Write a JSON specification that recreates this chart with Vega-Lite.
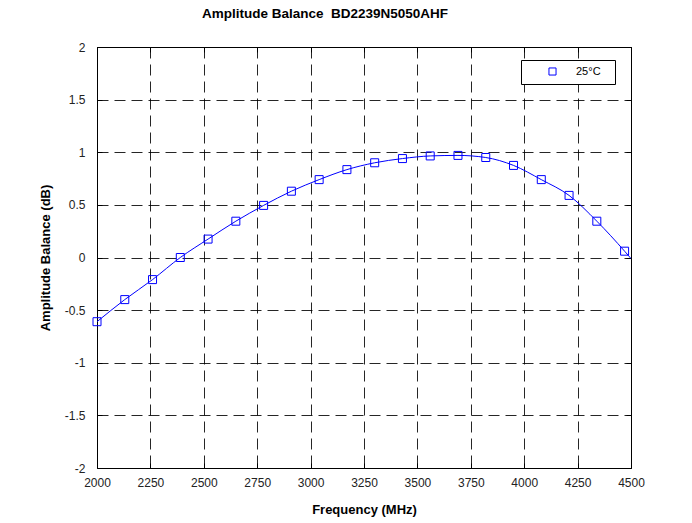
{
  "$schema": "https://vega.github.io/schema/vega-lite/v6.json",
  "width": 534,
  "height": 421,
  "autosize": {"type": "none"},
  "padding": {"left": 97, "top": 47, "right": 61, "bottom": 55},
  "background": "white",
  "title": {
    "text": "Amplitude Balance\u00a0 BD2239N5050AHF",
    "fontSize": 13.5,
    "fontWeight": "bold",
    "font": "Liberation Sans",
    "color": "black",
    "anchor": "middle",
    "dx": -39,
    "baseline": "alphabetic",
    "offset": 10
  },
  "config": {
    "view": {"stroke": "black", "strokeWidth": 1},
    "font": "Liberation Sans",
    "axis": {
      "labelFont": "Liberation Sans",
      "labelFontSize": 12,
      "labelColor": "#222",
      "titleFont": "Liberation Sans",
      "titleFontSize": 13,
      "titleFontWeight": "bold",
      "titleColor": "black",
      "domain": false,
      "tickColor": "black",
      "gridColor": "black",
      "gridDash": [11, 6],
      "gridWidth": 1,
      "gridOpacity": 0.85
    }
  },
  "datasets": {
    "markers": [
      {"freq": 2000, "bal": -0.61, "series": "25°C"},
      {"freq": 2130, "bal": -0.4, "series": "25°C"},
      {"freq": 2260, "bal": -0.21, "series": "25°C"},
      {"freq": 2390, "bal": 0.0, "series": "25°C"},
      {"freq": 2520, "bal": 0.175, "series": "25°C"},
      {"freq": 2650, "bal": 0.345, "series": "25°C"},
      {"freq": 2780, "bal": 0.495, "series": "25°C"},
      {"freq": 2910, "bal": 0.63, "series": "25°C"},
      {"freq": 3040, "bal": 0.74, "series": "25°C"},
      {"freq": 3170, "bal": 0.835, "series": "25°C"},
      {"freq": 3300, "bal": 0.9, "series": "25°C"},
      {"freq": 3430, "bal": 0.94, "series": "25°C"},
      {"freq": 3560, "bal": 0.965, "series": "25°C"},
      {"freq": 3690, "bal": 0.97, "series": "25°C"},
      {"freq": 3820, "bal": 0.95, "series": "25°C"},
      {"freq": 3950, "bal": 0.875, "series": "25°C"},
      {"freq": 4080, "bal": 0.74, "series": "25°C"},
      {"freq": 4210, "bal": 0.59, "series": "25°C"},
      {"freq": 4340, "bal": 0.345, "series": "25°C"},
      {"freq": 4470, "bal": 0.06, "series": "25°C"}
    ],
    "curve": [
      {"freq": 2000, "bal": -0.61},
      {"freq": 2130, "bal": -0.4},
      {"freq": 2260, "bal": -0.21},
      {"freq": 2390, "bal": 0.0},
      {"freq": 2520, "bal": 0.175},
      {"freq": 2650, "bal": 0.345},
      {"freq": 2780, "bal": 0.495},
      {"freq": 2910, "bal": 0.63},
      {"freq": 3040, "bal": 0.74},
      {"freq": 3170, "bal": 0.835},
      {"freq": 3300, "bal": 0.9},
      {"freq": 3430, "bal": 0.94},
      {"freq": 3560, "bal": 0.965},
      {"freq": 3690, "bal": 0.97},
      {"freq": 3820, "bal": 0.95},
      {"freq": 3950, "bal": 0.875},
      {"freq": 4080, "bal": 0.74},
      {"freq": 4210, "bal": 0.59},
      {"freq": 4340, "bal": 0.345},
      {"freq": 4470, "bal": 0.06},
      {"freq": 4500, "bal": -0.01}
    ]
  },
  "layer": [
    {
      "data": {"name": "curve"},
      "mark": {"type": "line", "color": "#0000ff", "strokeWidth": 1, "interpolate": "monotone", "clip": true},
      "encoding": {
        "x": {
          "field": "freq", "type": "quantitative",
          "scale": {"domain": [2000, 4500], "nice": false, "zero": false},
          "axis": {
            "orient": "bottom",
            "values": [2000, 2250, 2500, 2750, 3000, 3250, 3500, 3750, 4000, 4250, 4500],
            "labelExpr": "datum.value + ''",
            "title": "Frequency (MHz)",
            "titlePadding": 15,
            "grid": true,
            "tickSize": -5,
            "labelPadding": 14,
            "labelFlush": false
          }
        },
        "y": {
          "field": "bal", "type": "quantitative",
          "scale": {"domain": [-2, 2], "nice": false, "zero": false},
          "axis": {
            "orient": "left",
            "values": [-2, -1.5, -1, -0.5, 0, 0.5, 1, 1.5, 2],
            "labelExpr": "datum.value + ''",
            "title": "Amplitude Balance (dB)",
            "titlePadding": 12,
            "grid": true,
            "tickSize": -5,
            "labelPadding": 17,
            "labelFlush": false
          }
        }
      }
    },
    {
      "data": {"name": "markers"},
      "mark": {"type": "point", "shape": "square", "filled": false, "size": 64, "strokeWidth": 1, "opacity": 1},
      "encoding": {
        "x": {
          "field": "freq", "type": "quantitative",
          "axis": {
            "orient": "top",
            "values": [2000, 2250, 2500, 2750, 3000, 3250, 3500, 3750, 4000, 4250, 4500],
            "labels": false, "title": null, "grid": false, "tickSize": -5
          }
        },
        "y": {
          "field": "bal", "type": "quantitative",
          "axis": {
            "orient": "right",
            "values": [-2, -1.5, -1, -0.5, 0, 0.5, 1, 1.5, 2],
            "labels": false, "title": null, "grid": false, "tickSize": -5
          }
        },
        "color": {
          "field": "series", "type": "nominal",
          "scale": {"domain": ["25°C"], "range": ["#0000ff"]},
          "legend": {
            "title": null,
            "orient": "none",
            "legendX": 424,
            "legendY": 13,
            "strokeColor": "black",
            "fillColor": "white",
            "padding": 6,
            "symbolType": "square",
            "symbolSize": 50,
            "symbolStrokeWidth": 1,
            "symbolOffset": 20,
            "labelOffset": 18,
            "labelFontSize": 11,
            "labelFont": "Liberation Sans",
            "labelColor": "black",
            "labelExpr": "datum.label + '\u2800'"
          }
        }
      }
    }
  ],
  "resolve": {"axis": {"x": "independent", "y": "independent"}}
}
